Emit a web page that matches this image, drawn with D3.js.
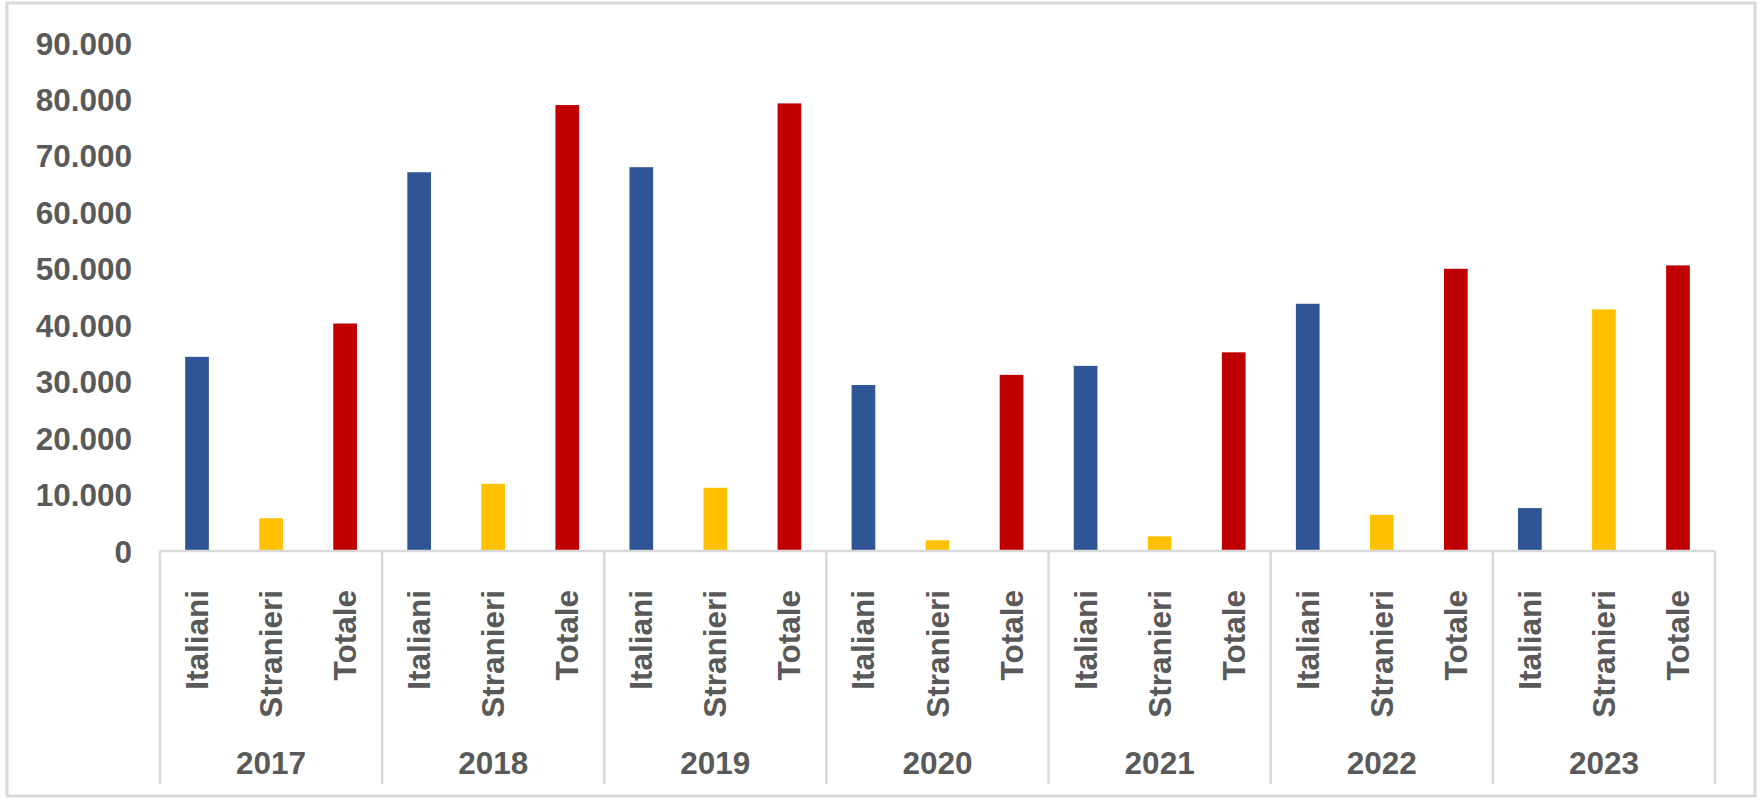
<!DOCTYPE html>
<html>
<head>
<meta charset="utf-8">
<script src="https://cdn.jsdelivr.net/npm/d3@7"></script>
<style>
  html, body { margin: 0; padding: 0; background: #fff; }
  svg { display: block; }
  text { font-family: "Liberation Sans", Arial, sans-serif; font-weight: bold; fill: #595959; }
</style>
</head>
<body>
<svg id="chart" width="1763" height="799"></svg>
<script>
const width = 1763, height = 799;
const svg = d3.select("#chart");

// Anni e serie
const years = ["2017", "2018", "2019", "2020", "2021", "2022", "2023"];
const seriesNames = ["Italiani", "Stranieri", "Totale"];
const italiani = [34400, 67100, 68000, 29400, 32800, 43800, 7600];
const stranieri = [5800, 11900, 11200, 1900, 2600, 6400, 42800];
const totale = [40300, 79000, 79300, 31200, 35200, 50000, 50600];
const yTicks = [0, 10000, 20000, 30000, 40000, 50000, 60000, 70000, 80000, 90000];

const colors = { Italiani: "#2F5597", Stranieri: "#FFC000", Totale: "#C00000" };
const lineColor = "#D9D9D9";
const fontSize = 31.5;

const margin = { left: 160, right: 48, top: 43, bottom: 248 };
const plotBottom = height - margin.bottom; // baseline

// Build rows from the arrays
const rows = years.map((y, i) => ({
    year: y,
    values: [
        { key: "Italiani", value: italiani[i] },
        { key: "Stranieri", value: stranieri[i] },
        { key: "Totale", value: totale[i] }
    ]
}));

const x0 = d3.scaleBand().domain(years).range([margin.left, width - margin.right]).padding(0);
const x1 = d3.scaleBand().domain(seriesNames).range([0, x0.bandwidth()]).paddingInner(0.68).paddingOuter(0.34);
const y = d3.scaleLinear().domain([0, 90000]).range([plotBottom, margin.top]);

// outer border
svg.append("rect")
    .attr("x", 7).attr("y", 3)
    .attr("width", width - 8 - 7).attr("height", height - 3 - 3)
    .attr("fill", "none")
    .attr("stroke", lineColor)
    .attr("stroke-width", 3);

// y axis labels (no line, no ticks)
const fmt = d3.formatLocale({ decimal: ",", thousands: ".", grouping: [3], currency: ["€", ""] }).format(",.0f");
const yAxis = d3.axisLeft(y).tickValues(yTicks).tickFormat(fmt).tickSize(0).tickPadding(0);
const yG = svg.append("g").attr("transform", "translate(132,0)").call(yAxis);
yG.select(".domain").remove();
yG.selectAll("text")
    .attr("font-size", fontSize)
    .attr("font-family", null)
    .attr("fill", "#595959")
    .attr("dy", "0.35em");

// bars
const groups = svg.append("g").selectAll("g")
    .data(rows)
    .join("g")
    .attr("transform", d => `translate(${x0(d.year)},0)`);

groups.selectAll("rect")
    .data(d => d.values)
    .join("rect")
    .attr("x", d => x1(d.key))
    .attr("y", d => y(d.value))
    .attr("width", x1.bandwidth())
    .attr("height", d => plotBottom - y(d.value))
    .attr("fill", d => colors[d.key]);

// horizontal axis line
svg.append("line")
    .attr("x1", x0.range()[0]).attr("x2", x0.range()[1])
    .attr("y1", plotBottom).attr("y2", plotBottom)
    .attr("stroke", lineColor).attr("stroke-width", 2.5);

// group separators
const bounds = years.map(yr => x0(yr)).concat([x0.range()[1]]);
svg.append("g").selectAll("line")
    .data(bounds)
    .join("line")
    .attr("x1", d => d).attr("x2", d => d)
    .attr("y1", plotBottom).attr("y2", 784)
    .attr("stroke", lineColor).attr("stroke-width", 2.5);

// category labels (rotated)
groups.selectAll("text.cat")
    .data(d => d.values)
    .join("text")
    .attr("class", "cat")
    .attr("transform", d => `translate(${x1(d.key) + x1.bandwidth() / 2},590) rotate(-90)`)
    .attr("text-anchor", "end")
    .attr("dy", "0.35em")
    .attr("font-size", fontSize)
    .text(d => d.key);

// year labels
groups.append("text")
    .attr("x", x0.bandwidth() / 2)
    .attr("y", 763)
    .attr("text-anchor", "middle")
    .attr("dy", "0.35em")
    .attr("font-size", fontSize)
    .text(d => d.year);
</script>
</body>
</html>
